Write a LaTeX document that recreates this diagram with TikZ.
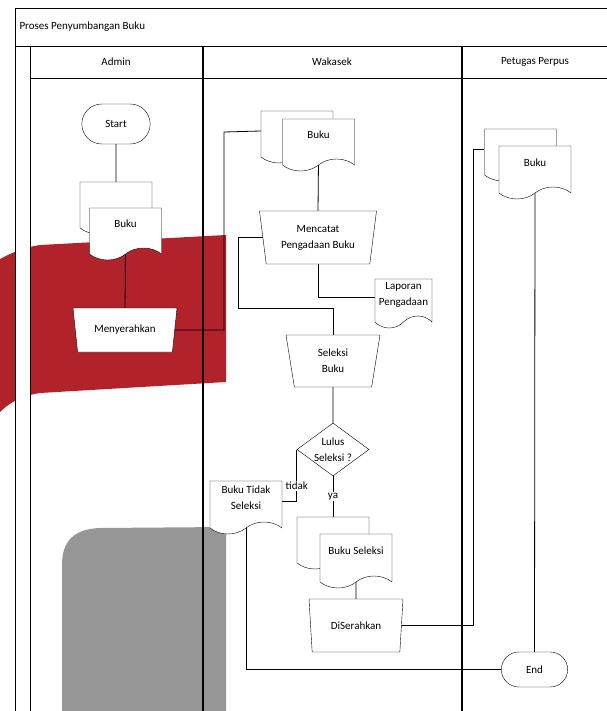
\documentclass[tikz,border=0pt]{standalone}
\usepackage{fontspec}
\setmainfont{Carlito}
\usetikzlibrary{shapes.geometric,shapes.misc,shapes.symbols}
\definecolor{swooshred}{RGB}{178,34,42}
\definecolor{blockgray}{RGB}{150,150,150}
\pgfdeclarelayer{bg}
\pgfdeclarelayer{wires}
\pgfsetlayers{bg,wires,main}

\begin{document}
\begin{tikzpicture}[x=1pt,y=-1pt,line width=0.8pt,
                    font=\fontsize{11}{16}\selectfont]
  \tikzstyle{terminal}=[rounded rectangle, draw, fill=white,
    minimum width=75pt, minimum height=40pt]
  \tikzstyle{doc}=[tape, tape bend top=none, tape bend height=12pt,
    draw, fill=white, minimum width=72pt, minimum height=52pt,
    align=center, inner sep=1pt, text depth=8pt]
  \tikzstyle{manual}=[trapezium, shape border rotate=180,
    trapezium stretches body, trapezium left angle=72,
    trapezium right angle=72, draw, fill=white, minimum width=94pt,
    minimum height=52pt, align=center, inner sep=1pt]
  \tikzstyle{decision}=[diamond, draw, fill=white, minimum width=72pt,
    minimum height=53pt, inner sep=0pt]
  \tikzstyle{lane}=[line width=1.1pt]

  \useasboundingbox (0,0) rectangle (606,711);
  \clip (0,0) rectangle (606,711);

  \begin{pgfonlayer}{bg}
  \begin{scope}[line width=0.8pt]
  % background
  \fill[swooshred] (-5,262) .. controls (5,256) and (20,248) .. (40,245)
    -- (226,235) -- (226,382) -- (40,393)
    .. controls (20,396) and (8,404) .. (0,412) -- (-5,414) -- cycle;
  \fill[blockgray] (62,711) -- (62,565) .. controls (62,540) and (75,529) .. (100,528)
    -- (226,527) -- (226,711) -- cycle;

  % pool and lanes
  \fill[white] (15.5,46) rectangle (30,720);
  \draw (620,8) -- (15.5,8) -- (15.5,720);
  \draw (15.5,46) -- (620,46);
  \draw (30,46) -- (30,720);
  \draw (30,78) -- (620,78);
  \draw[lane] (203,46) -- (203,720);
  \draw[lane] (462,46) -- (462,720);
  \end{scope}
  \end{pgfonlayer}

  \node[anchor=west] (judul)   at (16,27)  {Proses Penyumbangan Buku};
  \node              (admin)   at (116,62) {Admin};
  \node              (wakasek) at (332,62) {Wakasek};
  \node              (petugas) at (535,62) {Petugas Perpus};

  % Admin
  \node[terminal] (start)       at (116,124)   {Start};
  \node[doc]      (bukuA1)      at (116,202)   {};
  \node[doc]      (bukuA2)      at (125.5,228) {Buku};
  \node[manual, minimum width=104pt, minimum height=44pt,
        trapezium left angle=68, trapezium right angle=68]
                  (menyerahkan) at (125,330)   {Menyerahkan};

  % Wakasek
  \node[doc]      (bukuW1)      at (297,131)   {};
  \node[doc]      (bukuW2)      at (318.5,139) {Buku};
  \node[manual, minimum width=117pt, minimum height=53pt,
        trapezium left angle=76, trapezium right angle=76]
                  (mencatat)    at (318,237.5) {Mencatat\\Pengadaan Buku};
  \node[doc, minimum width=57pt, minimum height=49pt]
                  (laporan)     at (403.5,297.5) {Laporan\\Pengadaan};
  \node[manual]   (seleksi)     at (333,361)   {Seleksi\\Buku};
  \node[decision, label={[align=center]center:Lulus\\Seleksi ?}]
                  (lulus)       at (333,449.5) {};
  \node[doc, minimum height=53pt]
                  (tidak)       at (246,501.5) {Buku Tidak\\Seleksi};
  \node[doc]      (bukuS1)      at (333,537)   {};
  \node[doc, minimum height=54pt]
                  (bukuS2)      at (356,555)   {Buku Seleksi};
  \node[manual, minimum height=53pt]
                  (diserahkan)  at (356,625.5) {DiSerahkan};

  % Petugas Perpus
  \node[doc]      (bukuP1)      at (520.5,149) {};
  \node[doc, minimum height=53pt]
                  (bukuP2)      at (535,166.5) {Buku};
  \node[terminal, minimum width=73pt, minimum height=35pt]
                  (end)         at (534.5,669.5) {End};

  \coordinate (k1) at (224,132);
  \coordinate (k2) at (238,308);
  \coordinate (k3) at (473,149);

  \begin{pgfonlayer}{wires}
  \begin{scope}[line width=0.8pt]
  \draw (start) -- (bukuA1);
  \draw (bukuA2.south) -- (menyerahkan.north);
  \draw (menyerahkan.east) -| (k1) -- (bukuW1.west);
  \draw (bukuW2.south) -- (mencatat.north);
  \draw (mencatat.west) -| (k2) -| (seleksi.north);
  \draw (mencatat.south) |- (laporan.west);
  \draw (seleksi.south) -- (lulus.north);
  \draw (lulus.west) |- node[pos=0.35, fill=white, inner sep=1pt] {tidak} (tidak.east);
  \draw (lulus.south) -- node[fill=white, inner sep=1pt] {ya} (bukuS1.north);
  \draw (bukuS2.south) -- (diserahkan.north);
  \draw (diserahkan.east) -| (k3) -- (bukuP1.west);
  \draw (bukuP2.south) -- (end.north);
  \draw (tidak.south) |- (end.west);
  \end{scope}
  \end{pgfonlayer}
\end{tikzpicture}
\end{document}
